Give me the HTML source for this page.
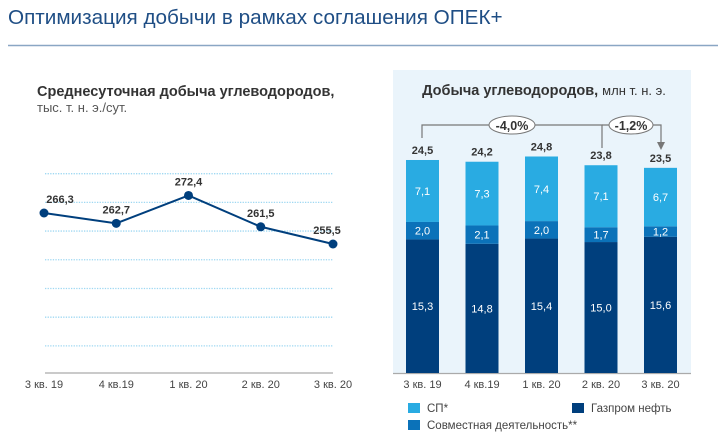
<!DOCTYPE html>
<html><head><meta charset="utf-8"><style>
body{margin:0;width:718px;height:440px;background:#fff;font-family:"Liberation Sans",sans-serif;overflow:hidden}
svg{position:absolute;left:0;top:0}
</style></head><body>
<svg width="718" height="440">
<text x="8" y="24" font-size="20.7" fill="#1f4e85">Оптимизация добычи в рамках соглашения ОПЕК+</text>
<line x1="8" y1="45.5" x2="718" y2="45.5" stroke="#8aa6c4" stroke-width="1.5"/>
<text x="37" y="96" font-size="14.5" font-weight="bold" fill="#333">Среднесуточная добыча углеводородов,</text>
<text x="37" y="112" font-size="13" fill="#555">тыс. т. н. э./сут.</text>
<rect x="393" y="70" width="298" height="303" fill="#eaf4fb"/>
<text x="544" y="95" text-anchor="middle" font-size="14.5" font-weight="bold" fill="#333">Добыча углеводородов, <tspan font-weight="normal" font-size="13">млн т. н. э.</tspan></text>
<g id="line"></g><g id="bars"></g>
<g stroke="#777" stroke-width="1.2" fill="none">
<polyline points="422,138 422,125 602,125 602,148"/>
<polyline points="602,125 661,125 661,143"/>
</g>
<polygon points="657,142 665,142 661,150" fill="#777"/>
<ellipse cx="512" cy="125" rx="23" ry="9" fill="#fff" stroke="#777"/>
<text x="512" y="130" text-anchor="middle" font-size="12.5" font-weight="bold" fill="#333">-4,0%</text>
<ellipse cx="631" cy="125" rx="22" ry="9" fill="#fff" stroke="#777"/>
<text x="631" y="130" text-anchor="middle" font-size="12.5" font-weight="bold" fill="#333">-1,2%</text>
<g font-size="11.5" fill="#444">
<rect x="408" y="403" width="12" height="10" fill="#29abe2"/>
<text x="427" y="412">СП*</text>
<rect x="408" y="420" width="12" height="10" fill="#0b72b9"/>
<text x="427" y="429">Совместная деятельность**</text>
<rect x="572" y="403" width="12" height="10" fill="#003f7d"/>
<text x="591" y="412">Газпром нефть</text>
</g>
</svg>
<script>
const lineCats=["3 кв. 19","4 кв.19","1 кв. 20","2 кв. 20","3 кв. 20"];
const lineVals=[266.3,262.7,272.4,261.5,255.5];
const lineLabels=["266,3","262,7","272,4","261,5","255,5"];
const gridVals=[280,270,260,250,240,230,220];
const barCats=["3 кв. 19","4 кв.19","1 кв. 20","2 кв. 20","3 кв. 20"];
const gpn=[15.3,14.8,15.4,15.0,15.6];
const joint=[2.0,2.1,2.0,1.7,1.2];
const sp=[7.1,7.3,7.4,7.1,6.7];
const totals=["24,5","24,2","24,8","23,8","23,5"];
const NS="http://www.w3.org/2000/svg";
function mk(p,t,a){const e=document.createElementNS(NS,t);for(const k in a)e.setAttribute(k,a[k]);p.appendChild(e);return e;}
const fmt=v=>v.toFixed(1).replace('.',',');
// line chart
const L=document.getElementById('line');
const lx=i=>44+i*72.25, ly=v=>213-(v-266.3)*2.87;
gridVals.forEach(g=>{const e=mk(L,'line',{x1:45,x2:333,y1:ly(g),y2:ly(g),stroke:'#9fd8f2','stroke-width':1.3,'stroke-dasharray':'1.3 1.3'});

});
let ax=mk(L,'line',{x1:45,x2:333,y1:373,y2:373,stroke:'#aaa','stroke-width':1.2});


let pl=mk(L,'polyline',{points:lineVals.map((v,i)=>lx(i)+','+ly(v)).join(' '),fill:'none',stroke:'#003f7d','stroke-width':2});


lineVals.forEach((v,i)=>{
 const c=mk(L,'circle',{cx:lx(i),cy:ly(v),r:4.5,fill:'#003f7d'});
 
 
 const t=mk(L,'text',{x:lx(i)+(i==0?16:i==4?-6:0),y:ly(v)-10,'text-anchor':'middle','font-size':11,'font-weight':'bold',fill:'#333'});t.textContent=lineLabels[i];
 
 
 const xl=mk(L,'text',{x:lx(i),y:388,'text-anchor':'middle','font-size':11,fill:'#444'});xl.textContent=lineCats[i];
 
 
});
// bars
const B=document.getElementById('bars');
const bx=i=>422.5+i*59.5, s=8.73, base=373, bw=33;
let bax=mk(B,'line',{x1:393,x2:691,y1:373.5,y2:373.5,stroke:'#aaa','stroke-width':1.2});


barCats.forEach((c,i)=>{
 let y=base;
 [[gpn[i],'#003f7d','bar-gpn'],[joint[i],'#0b72b9','bar-joint'],[sp[i],'#29abe2','bar-sp']].forEach(([v,col,nm])=>{
  const h=v*s;y-=h;
  const r=mk(B,'rect',{x:bx(i)-bw/2,y:y,width:bw,height:h,fill:col});
  
  
  const t=mk(B,'text',{x:bx(i),y:y+h/2+4,'text-anchor':'middle','font-size':11,fill:'#fff'});t.textContent=fmt(v);
  
  
 });
 const tt=mk(B,'text',{x:bx(i),y:y-6,'text-anchor':'middle','font-size':11,'font-weight':'bold',fill:'#333'});tt.textContent=totals[i];
 
 
 const xl=mk(B,'text',{x:bx(i),y:388,'text-anchor':'middle','font-size':11,fill:'#444'});xl.textContent=c;
 
 
});
</script>
</body></html>
